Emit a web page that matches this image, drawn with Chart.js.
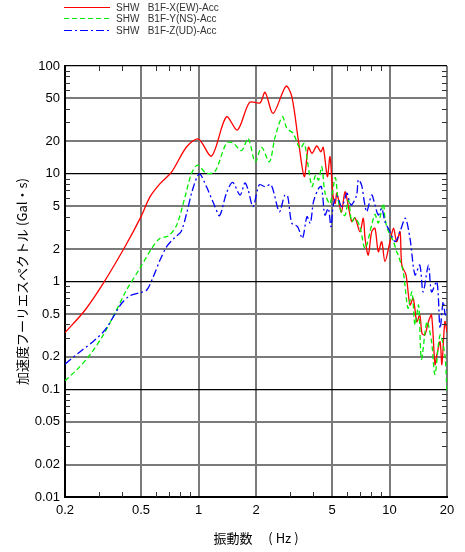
<!DOCTYPE html>
<html>
<head>
<meta charset="utf-8">
<script src="https://cdn.jsdelivr.net/npm/chart.js@4"></script>
<style>
  html, body { margin: 0; padding: 0; background: #fff; }
  #wrap { width: 465px; height: 552px; }
</style>
</head>
<body>
<div id="wrap"><canvas id="chart" width="465" height="552"></canvas></div>
<script>
// tick values
const ticksX = [0.2, 0.5, 1, 2, 5, 10, 20];
const ticksY = [0.01, 0.02, 0.05, 0.1, 0.2, 0.5, 1, 2, 5, 10, 20, 50, 100];
const minorX = [0.3, 0.4, 0.6, 0.7, 0.8, 0.9, 3, 4, 6, 7, 8, 9];
const minorY = [0.03, 0.04, 0.06, 0.07, 0.08, 0.09, 0.3, 0.4, 0.6, 0.7, 0.8, 0.9,
  3, 4, 6, 7, 8, 9, 30, 40, 60, 70, 80, 90];

const seriesNames = ["SHW   B1F-X(EW)-Acc", "SHW   B1F-Y(NS)-Acc", "SHW   B1F-Z(UD)-Acc"];

// [frequency Hz, amplitude Gal*s]
const accEW = [
  [0.2, 0.335], [0.255, 0.544], [0.317, 0.96], [0.412, 2.1], [0.5, 4.0], [0.557, 6.1],
  [0.629, 8.1], [0.724, 10.4], [0.867, 17.8], [1.0, 21], [1.17, 14.6], [1.4, 33.8],
  [1.6, 25.5], [1.85, 46], [2.1, 45.5], [2.23, 57], [2.46, 36.4], [2.87, 65],
  [3.08, 51.9], [3.33, 20.6], [3.58, 9.4], [3.76, 17.6], [3.93, 15.5], [4.16, 18.1],
  [4.37, 16], [4.5, 17.6], [4.73, 9.4], [4.88, 14.4], [5.06, 6.3], [5.2, 5.3],
  [5.29, 6.6], [5.39, 5.9], [5.6, 4.4], [5.85, 6.8], [6.09, 5.0], [6.34, 3.6],
  [6.6, 3.9], [7.0, 2.9], [7.29, 3.86], [7.45, 2.5], [7.74, 1.76], [8.07, 2.9],
  [8.39, 3.12], [8.74, 1.89], [9.1, 2.34], [9.47, 1.53], [10.06, 2.34], [10.5, 3.12],
  [10.9, 2.34], [11.35, 2.9], [11.6, 1.42], [12.2, 1.15], [12.8, 0.605], [13.3, 0.7],
  [13.9, 0.424], [14.4, 0.489], [14.8, 0.33], [15.3, 0.319], [16.0, 0.424], [16.6, 0.489],
  [17.3, 0.17], [17.7, 0.208], [18.4, 0.276], [18.8, 0.17], [19.5, 0.424], [20, 0.34]
];
const accNS = [
  [0.2, 0.12], [0.23, 0.151], [0.27, 0.208], [0.317, 0.318], [0.365, 0.507], [0.42, 0.834],
  [0.494, 1.33], [0.569, 2.03], [0.629, 2.52], [0.695, 2.64], [0.769, 3.35], [0.85, 6.1],
  [0.92, 10.1], [0.99, 12], [1.1, 10.1], [1.22, 10.5], [1.4, 19.2], [1.51, 19.4],
  [1.68, 16.4], [1.82, 21.3], [1.98, 12.9], [2.14, 17.6], [2.35, 12.9], [2.52, 22],
  [2.75, 33.8], [2.9, 26.4], [3.13, 23.7], [3.4, 17.2], [3.58, 19.2], [3.71, 13.4],
  [3.93, 7.6], [4.1, 9.7], [4.25, 8.75], [4.42, 11.6], [4.6, 6.6], [4.88, 5.3],
  [5.2, 9.2], [5.37, 5.9], [5.6, 4.4], [5.85, 4.1], [6.1, 5.7], [6.34, 3.59],
  [6.6, 3.9], [7.0, 3.2], [7.45, 2.03], [8.07, 3.35], [8.39, 4.2], [8.74, 3.5],
  [9.28, 5.3], [9.47, 3.86], [9.8, 3.0], [10.5, 2.34], [10.9, 1.89], [11.1, 1.76],
  [11.8, 1.23], [12.5, 0.564], [13.1, 0.8], [13.6, 0.395], [14.2, 0.605], [14.7, 0.19],
  [15.7, 0.424], [16.6, 0.276], [17.3, 0.137], [18.4, 0.319], [19.5, 0.208], [20, 0.09]
];
const accUD = [
  [0.2, 0.171], [0.24, 0.223], [0.28, 0.276], [0.324, 0.355], [0.358, 0.47], [0.396, 0.628],
  [0.438, 0.738], [0.494, 0.787], [0.536, 0.834], [0.58, 1.11], [0.629, 1.58], [0.68, 2.1],
  [0.75, 2.55], [0.81, 2.9], [0.867, 4.3], [0.93, 7.06], [1.01, 9.95], [1.1, 7.6],
  [1.22, 4.95], [1.29, 4.08], [1.4, 6.6], [1.51, 8.3], [1.65, 6.35], [1.75, 8.2],
  [1.82, 7.06], [1.93, 4.95], [2.08, 7.9], [2.23, 7.6], [2.4, 7.9], [2.65, 4.45],
  [2.83, 6.35], [2.93, 6.2], [3.08, 3.47], [3.3, 3.23], [3.5, 2.52], [3.7, 4.0],
  [3.85, 3.47], [4.0, 5.5], [4.25, 7.3], [4.4, 7.6], [4.59, 4.14], [4.78, 4.78],
  [4.94, 3.23], [5.08, 5.13], [5.3, 6.2], [5.63, 4.95], [5.98, 6.6], [6.21, 5.3],
  [6.34, 5.13], [6.73, 6.35], [6.87, 8.8], [7.15, 7.8], [7.38, 5.5], [7.6, 4.44],
  [8.07, 6.35], [8.39, 5.13], [8.74, 4.14], [9.1, 4.78], [9.47, 3.59], [10.06, 2.9],
  [10.7, 2.34], [11.35, 2.9], [12.1, 3.86], [12.8, 2.52], [13.6, 1.15], [14.4, 1.42],
  [15.0, 0.8], [16.0, 1.42], [16.6, 0.8], [17.7, 1.0], [18.4, 0.368], [19.1, 0.65],
  [19.6, 0.489], [20, 0.55]
];

function toPoints(arr) {
  return arr.map(p => ({ x: p[0], y: p[1] }));
}

// minor ticks inside the frame + legend at the top
const decorPlugin = {
  id: "decor",
  afterDraw(chart) {
    const c = chart.ctx;
    const a = chart.chartArea;
    const sx = chart.scales.x, sy = chart.scales.y;
    c.save();
    c.strokeStyle = "#333";
    c.lineWidth = 1;
    c.beginPath();
    minorX.forEach(v => {
      const px = Math.round(sx.getPixelForValue(v)) + 0.5;
      c.moveTo(px, a.bottom); c.lineTo(px, a.bottom - 5);
      c.moveTo(px, a.top); c.lineTo(px, a.top + 5);
    });
    minorY.forEach(v => {
      const py = Math.round(sy.getPixelForValue(v)) + 0.5;
      c.moveTo(a.left, py); c.lineTo(a.left + 5, py);
      c.moveTo(a.right, py); c.lineTo(a.right - 5, py);
    });
    c.stroke();

    // legend
    const rows = [7, 18, 30];
    c.font = "10px 'Liberation Sans', Arial, sans-serif";
    c.textBaseline = "middle";
    chart.data.datasets.forEach((ds, i) => {
      const y = rows[i] + 0.5;
      c.strokeStyle = ds.borderColor;
      c.lineWidth = 1.2;
      c.setLineDash(ds.borderDash || []);
      c.beginPath();
      c.moveTo(64, y); c.lineTo(110, y);
      c.stroke();
      c.setLineDash([]);
      c.fillStyle = "#333";
      c.fillText(seriesNames[i], 116, rows[i] + 1);
    });
    c.restore();
  }
};

const tickFont = { family: "'Liberation Sans', Arial, sans-serif", size: 13 };

new Chart(document.getElementById("chart").getContext("2d"), {
  type: "scatter",
  data: {
    datasets: [
      {
        label: seriesNames[0],
        data: toPoints(accEW),
        borderColor: "#ff0000",
        borderWidth: 1.3,
        order: 2
      },
      {
        label: seriesNames[1],
        data: toPoints(accNS),
        borderColor: "#00ee00",
        borderWidth: 1.3,
        borderDash: [5, 3],
        order: 1
      },
      {
        label: seriesNames[2],
        data: toPoints(accUD),
        borderColor: "#0000ff",
        borderWidth: 1.3,
        borderDash: [8, 3, 2, 3],
        order: 0
      }
    ]
  },
  options: {
    responsive: false,
    animation: false,
    showLine: true,
    layout: { padding: { top: 66, right: 18, left: 0, bottom: 0 } },
    elements: {
      line: { tension: 0.3 },
      point: { radius: 0, hitRadius: 0 }
    },
    plugins: {
      legend: { display: false },
      tooltip: { enabled: false },
      title: { display: false }
    },
    scales: {
      x: {
        type: "logarithmic",
        min: 0.2,
        max: 20,
        afterBuildTicks: s => { s.ticks = ticksX.map(v => ({ value: v })); },
        afterFit: s => { s.height = 55; },
        border: { color: "#000", width: 2 },
        grid: {
          drawTicks: false,
          color: "#7a7a7a",
          lineWidth: 2
        },
        ticks: {
          autoSkip: false,
          maxRotation: 0,
          padding: 6,
          color: "#000",
          font: tickFont,
          callback: v => String(v)
        },
        title: {
          display: true,
          text: "振動数　 ( Hz )",
          color: "#000",
          font: { family: "'Noto Sans CJK JP', sans-serif", size: 13 },
          padding: { top: 0, bottom: 6 }
        }
      },
      y: {
        type: "logarithmic",
        min: 0.01,
        max: 100,
        afterBuildTicks: s => { s.ticks = ticksY.map(v => ({ value: v })); },
        afterFit: s => { s.width = 65; },
        border: { color: "#000", width: 2 },
        grid: {
          drawTicks: false,
          color: ctx => {
            const v = ctx.tick && ctx.tick.value;
            return [0.01, 0.1, 1, 10, 100].includes(v) ? "#000" : "#7a7a7a";
          },
          lineWidth: ctx => {
            const v = ctx.tick && ctx.tick.value;
            return [0.01, 0.1, 1, 10, 100].includes(v) ? 1.2 : 2;
          }
        },
        ticks: {
          autoSkip: false,
          padding: 5,
          color: "#000",
          font: tickFont,
          callback: v => String(v)
        },
        title: {
          display: true,
          text: "加速度フーリエスペクトル (Gal・s)",
          color: "#000",
          font: { family: "'Noto Sans CJK JP', sans-serif", size: 13 },
          padding: { top: 14, bottom: 0 }
        }
      }
    }
  },
  plugins: [decorPlugin]
});
</script>
</body>
</html>
